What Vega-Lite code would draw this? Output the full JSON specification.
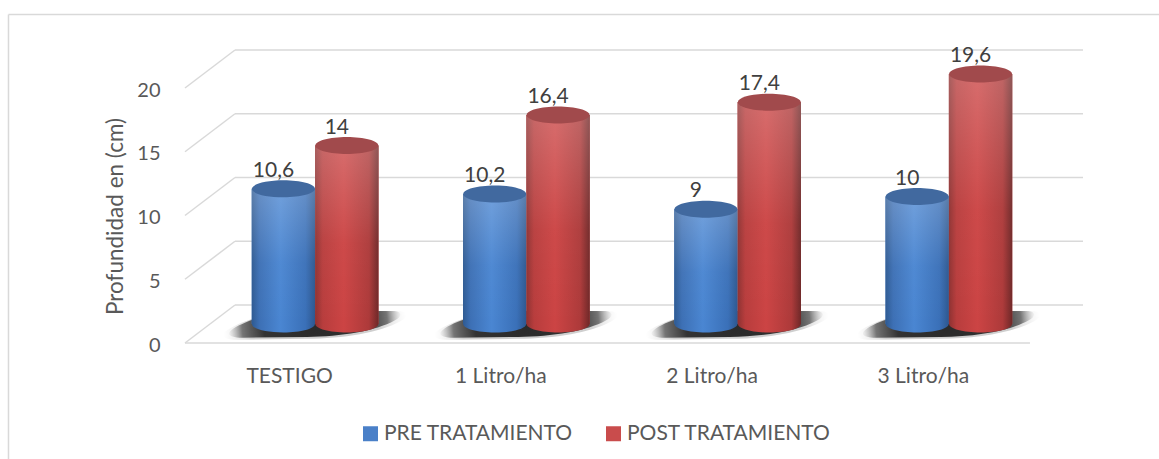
{
"$schema":"https://vega.github.io/schema/vega-lite/v6.json",
"width":1159,"height":459,"padding":0,"autosize":{"type":"none"},
"background":"white",
"config":{"view":{"stroke":null},"font":"Lato"},
"datasets":{
"main":[
{"trat":"TESTIGO","serie":"PRE TRATAMIENTO","valor":10.6,"etq":"10,6"},
{"trat":"TESTIGO","serie":"POST TRATAMIENTO","valor":14,"etq":"14"},
{"trat":"1 Litro/ha","serie":"PRE TRATAMIENTO","valor":10.2,"etq":"10,2"},
{"trat":"1 Litro/ha","serie":"POST TRATAMIENTO","valor":16.4,"etq":"16,4"},
{"trat":"2 Litro/ha","serie":"PRE TRATAMIENTO","valor":9,"etq":"9"},
{"trat":"2 Litro/ha","serie":"POST TRATAMIENTO","valor":17.4,"etq":"17,4"},
{"trat":"3 Litro/ha","serie":"PRE TRATAMIENTO","valor":10,"etq":"10"},
{"trat":"3 Litro/ha","serie":"POST TRATAMIENTO","valor":19.6,"etq":"19,6"}],
"grid":[
{"a":-0.8355,"b":4.6107,"c":25.76,"d":25.76},
{"a":-0.8355,"b":-0.8355,"c":25.76,"d":-9.098},
{"a":0,"b":4,"c":0,"d":0},
{"a":0,"b":0.2367,"c":0,"d":2.98},
{"a":0,"b":0.2367,"c":5,"d":7.98},
{"a":0,"b":0.2367,"c":10,"d":12.98},
{"a":0,"b":0.2367,"c":15,"d":17.98},
{"a":0,"b":0.2367,"c":20,"d":22.98},
{"a":0.2367,"b":4.251,"c":2.98,"d":2.98},
{"a":0.2367,"b":4.251,"c":7.98,"d":7.98},
{"a":0.2367,"b":4.251,"c":12.98,"d":12.98},
{"a":0.2367,"b":4.251,"c":17.98,"d":17.98},
{"a":0.2367,"b":4.251,"c":22.98,"d":22.98}]
},
"data":{"name":"main"},
"resolve":{"scale":{"x":"independent","y":"independent"},"axis":{"x":"independent","y":"independent"}},
"layer":[
{"data":{"name":"grid"},
 "mark":{"type":"rule","color":"#d9d9d9","strokeWidth":1.5},
 "encoding":{
  "x":{"field":"a","type":"quantitative","axis":null,"scale":{"domain":[-0.8757,4.6107],"range":[0,1159],"nice":false,"zero":false}},
  "x2":{"field":"b"},
  "y":{"field":"c","type":"quantitative","axis":null,"scale":{"domain":[-9.098,26.902],"range":[459,0],"nice":false,"zero":false}},
  "y2":{"field":"d"}}},
{"mark":{"type":"point","opacity":0},
 "encoding":{
  "x":{"field":"trat","type":"nominal","sort":["TESTIGO","1 Litro/ha","2 Litro/ha","3 Litro/ha"],"title":null,
   "scale":{"range":[184,1029],"type":"band","paddingInner":0,"paddingOuter":0},
   "axis":{"orient":"bottom","offset":-116,"domain":false,"ticks":false,"labelPadding":22,"labelAngle":0,"labelFontSize":21,"labelColor":"#595959","labelFont":"Lato"}},
  "y":{"field":"valor","type":"quantitative","title":"Profundidad en (cm)",
   "scale":{"domain":[-9.098,26.902],"range":[459,0],"nice":false,"zero":false},
   "axis":{"orient":"left","offset":-165,"values":[0,5,10,15,20],"domain":false,"ticks":false,"grid":false,"labelPadding":5,"labelOffset":2,"labelFontSize":20,"labelColor":"#595959","labelFont":"Lato","titleFontSize":22.5,"titleFont":"Lato","titleFontWeight":"normal","titleColor":"#595959","titleY":216,"titlePadding":9}}}},
{"transform":[{"filter":"datum.serie==='PRE TRATAMIENTO'"}],
 "mark":{"type":"point","filled":true,"opacity":0.28,"size":34000,"yOffset":1,"shape":"M-0.98,0.07C-0.85,-0.03 -0.5,-0.15 -0.2,-0.15L0.9,-0.15C1,-0.15 1.02,-0.09 0.92,-0.04C0.7,0.08 0.3,0.15 -0.1,0.15L-0.85,0.16C-1,0.16 -1.04,0.12 -0.98,0.07Z",
  "fill":{"gradient":"radial","stops":[{"offset":0,"color":"#555555"},{"offset":0.7,"color":"#555555"},{"offset":1,"color":"rgba(160,160,160,0)"}]}},
 "encoding":{
  "x":{"field":"trat","type":"nominal","sort":["TESTIGO","1 Litro/ha","2 Litro/ha","3 Litro/ha"],"axis":null,"scale":{"range":[210,1055],"type":"band","paddingInner":0.4,"paddingOuter":0.2}},
  "y":{"datum":0,"type":"quantitative","axis":null,"scale":{"domain":[-10.588,25.412],"range":[459,0],"nice":false,"zero":false}}}},
{"transform":[{"filter":"datum.serie==='PRE TRATAMIENTO'"}],
 "mark":{"type":"point","filled":true,"opacity":1,"size":29500,"shape":"M-0.98,0.07C-0.85,-0.03 -0.5,-0.15 -0.2,-0.15L0.9,-0.15C1,-0.15 1.02,-0.09 0.92,-0.04C0.7,0.08 0.3,0.15 -0.1,0.15L-0.85,0.16C-1,0.16 -1.04,0.12 -0.98,0.07Z",
  "fill":{"gradient":"radial","stops":[{"offset":0,"color":"#2a2a2a"},{"offset":0.6,"color":"#333333"},{"offset":0.85,"color":"rgba(80,80,80,0.75)"},{"offset":1,"color":"rgba(150,150,150,0.1)"}]}},
 "encoding":{
  "x":{"field":"trat","type":"nominal","sort":["TESTIGO","1 Litro/ha","2 Litro/ha","3 Litro/ha"],"axis":null,"scale":{"range":[210,1055],"type":"band","paddingInner":0.4,"paddingOuter":0.2}},
  "y":{"datum":0,"type":"quantitative","axis":null,"scale":{"domain":[-10.588,25.412],"range":[459,0],"nice":false,"zero":false}}}},
{"mark":{"type":"bar"},
 "encoding":{
  "x":{"field":"trat","type":"nominal","sort":["TESTIGO","1 Litro/ha","2 Litro/ha","3 Litro/ha"],"axis":null,"scale":{"range":[209.5,1054.5],"type":"band","paddingInner":0.4,"paddingOuter":0.2}},
  "xOffset":{"field":"serie","scale":{"domain":["PRE TRATAMIENTO","POST TRATAMIENTO"]}},
  "y":{"field":"valor","type":"quantitative","axis":null,"scale":{"domain":[-10.588,25.412],"range":[459,0],"nice":false,"zero":false}},
  "color":{"field":"serie","type":"nominal",
   "scale":{"domain":["PRE TRATAMIENTO","POST TRATAMIENTO"],"range":["#4a80c8","#c94c4c"]},
   "legend":{"orient":"none","legendX":360,"legendY":423,"direction":"horizontal","title":null,"symbolType":"square","symbolSize":225,"symbolStrokeWidth":0,"symbolOpacity":1,"labelFontSize":21,"labelLimit":400,"labelFont":"Lato","labelColor":"#595959","labelOffset":3,"columnPadding":30}}}},
{"transform":[{"filter":"datum.serie==='PRE TRATAMIENTO'"}],
 "mark":{"type":"bar","color":{"gradient":"linear","x1":0,"x2":1,"y1":0,"y2":0,"stops":[{"offset":0,"color":"#2e5a92"},{"offset":0.12,"color":"#3d70b5"},{"offset":0.45,"color":"#4a86d2"},{"offset":0.85,"color":"#3a70b8"},{"offset":1,"color":"#2d578f"}]}},
 "encoding":{
  "x":{"field":"trat","type":"nominal","sort":["TESTIGO","1 Litro/ha","2 Litro/ha","3 Litro/ha"],"axis":null,"scale":{"range":[209.5,1054.5],"type":"band","paddingInner":0.4,"paddingOuter":0.2}},
  "xOffset":{"field":"serie","scale":{"domain":["PRE TRATAMIENTO","POST TRATAMIENTO"]}},
  "y":{"field":"valor","type":"quantitative","axis":null,"scale":{"domain":[-10.588,25.412],"range":[459,0],"nice":false,"zero":false}}}},
{"transform":[{"filter":"datum.serie==='POST TRATAMIENTO'"}],
 "mark":{"type":"bar","color":{"gradient":"linear","x1":0,"x2":1,"y1":0,"y2":0,"stops":[{"offset":0,"color":"#8e3232"},{"offset":0.12,"color":"#b83d3d"},{"offset":0.45,"color":"#cc4444"},{"offset":0.85,"color":"#ad3a3a"},{"offset":1,"color":"#6f2828"}]}},
 "encoding":{
  "x":{"field":"trat","type":"nominal","sort":["TESTIGO","1 Litro/ha","2 Litro/ha","3 Litro/ha"],"axis":null,"scale":{"range":[209.5,1054.5],"type":"band","paddingInner":0.4,"paddingOuter":0.2}},
  "xOffset":{"field":"serie","scale":{"domain":["PRE TRATAMIENTO","POST TRATAMIENTO"]}},
  "y":{"field":"valor","type":"quantitative","axis":null,"scale":{"domain":[-10.588,25.412],"range":[459,0],"nice":false,"zero":false}}}},
{"transform":[{"filter":"datum.serie==='PRE TRATAMIENTO'"}],
 "mark":{"type":"point","filled":true,"opacity":1,"size":3969,"shape":"M-1,0A1,0.27,0,1,1,1,0A1,0.27,0,1,1,-1,0Z","fill":{"gradient":"linear","x1":0,"x2":1,"y1":0,"y2":0,"stops":[{"offset":0,"color":"#2e5a92"},{"offset":0.12,"color":"#3d70b5"},{"offset":0.45,"color":"#4a86d2"},{"offset":0.85,"color":"#3a70b8"},{"offset":1,"color":"#2d578f"}]}},
 "encoding":{
  "x":{"field":"trat","type":"nominal","sort":["TESTIGO","1 Litro/ha","2 Litro/ha","3 Litro/ha"],"axis":null,"scale":{"range":[209.5,1054.5],"type":"band","paddingInner":0.4,"paddingOuter":0.2}},
  "xOffset":{"field":"serie","scale":{"domain":["PRE TRATAMIENTO","POST TRATAMIENTO"]}},
  "y":{"datum":0,"type":"quantitative","axis":null,"scale":{"domain":[-10.588,25.412],"range":[459,0],"nice":false,"zero":false}}}},
{"transform":[{"filter":"datum.serie==='POST TRATAMIENTO'"}],
 "mark":{"type":"point","filled":true,"opacity":1,"size":3969,"shape":"M-1,0A1,0.27,0,1,1,1,0A1,0.27,0,1,1,-1,0Z","fill":{"gradient":"linear","x1":0,"x2":1,"y1":0,"y2":0,"stops":[{"offset":0,"color":"#8e3232"},{"offset":0.12,"color":"#b83d3d"},{"offset":0.45,"color":"#cc4444"},{"offset":0.85,"color":"#ad3a3a"},{"offset":1,"color":"#6f2828"}]}},
 "encoding":{
  "x":{"field":"trat","type":"nominal","sort":["TESTIGO","1 Litro/ha","2 Litro/ha","3 Litro/ha"],"axis":null,"scale":{"range":[209.5,1054.5],"type":"band","paddingInner":0.4,"paddingOuter":0.2}},
  "xOffset":{"field":"serie","scale":{"domain":["PRE TRATAMIENTO","POST TRATAMIENTO"]}},
  "y":{"datum":0,"type":"quantitative","axis":null,"scale":{"domain":[-10.588,25.412],"range":[459,0],"nice":false,"zero":false}}}},
{"mark":{"type":"bar","color":{"gradient":"linear","x1":0,"x2":0,"y1":0,"y2":1,"stops":[{"offset":0,"color":"rgba(255,255,255,0.22)"},{"offset":0.55,"color":"rgba(255,255,255,0.03)"},{"offset":1,"color":"rgba(255,255,255,0)"}]}},
 "encoding":{
  "x":{"field":"trat","type":"nominal","sort":["TESTIGO","1 Litro/ha","2 Litro/ha","3 Litro/ha"],"axis":null,"scale":{"range":[209.5,1054.5],"type":"band","paddingInner":0.4,"paddingOuter":0.2}},
  "xOffset":{"field":"serie","scale":{"domain":["PRE TRATAMIENTO","POST TRATAMIENTO"]}},
  "y":{"field":"valor","type":"quantitative","axis":null,"scale":{"domain":[-10.588,25.412],"range":[459,0],"nice":false,"zero":false}}}},
{"mark":{"type":"point","filled":true,"opacity":1,"size":3969,"shape":"M-1,0A1,0.27,0,1,1,1,0A1,0.27,0,1,1,-1,0Z"},
 "encoding":{
  "x":{"field":"trat","type":"nominal","sort":["TESTIGO","1 Litro/ha","2 Litro/ha","3 Litro/ha"],"axis":null,"scale":{"range":[209.5,1054.5],"type":"band","paddingInner":0.4,"paddingOuter":0.2}},
  "xOffset":{"field":"serie","scale":{"domain":["PRE TRATAMIENTO","POST TRATAMIENTO"]}},
  "y":{"field":"valor","type":"quantitative","axis":null,"scale":{"domain":[-10.588,25.412],"range":[459,0],"nice":false,"zero":false}},
  "fill":{"field":"serie","type":"nominal","legend":null,"scale":{"domain":["PRE TRATAMIENTO","POST TRATAMIENTO"],"range":["#41699f","#a14a4c"]}}}},
{"mark":{"type":"text","fontSize":21,"font":"Lato","color":"#404040","dy":-18,"dx":-10},
 "encoding":{
  "x":{"field":"trat","type":"nominal","sort":["TESTIGO","1 Litro/ha","2 Litro/ha","3 Litro/ha"],"axis":null,"scale":{"range":[209.5,1054.5],"type":"band","paddingInner":0.4,"paddingOuter":0.2}},
  "xOffset":{"field":"serie","scale":{"domain":["PRE TRATAMIENTO","POST TRATAMIENTO"]}},
  "y":{"field":"valor","type":"quantitative","axis":null,"scale":{"domain":[-10.588,25.412],"range":[459,0],"nice":false,"zero":false}},
  "text":{"field":"etq","type":"nominal"}}}
]
}
